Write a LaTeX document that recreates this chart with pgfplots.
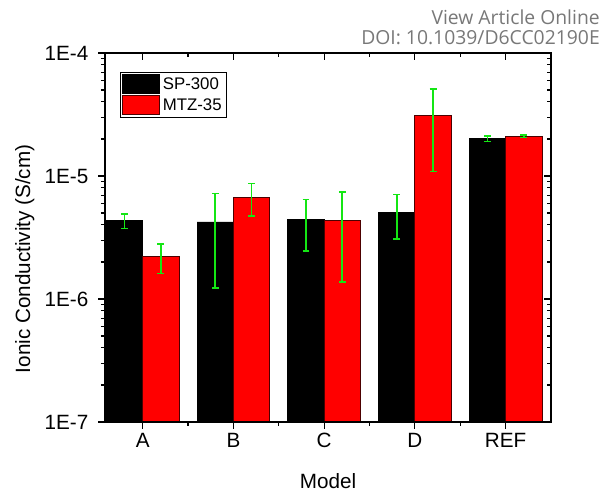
\documentclass[border=0pt]{standalone}
\usepackage{pgfplots}
\pgfplotsset{compat=1.18}
\usepackage{pgfplotstable}
\usepackage{fontspec}
\setmainfont{Liberation Sans}
\newfontfamily\wmfont{Open Sans}
\definecolor{errgreen}{RGB}{20,230,20}
\definecolor{wmgray}{RGB}{120,120,120}
\pgfplotstableread{
x y e
0 4.33e-6 0.6e-6
1 4.23e-6 3.0e-6
2 4.45e-6 2.0e-6
3 5.07e-6 2.0e-6
4 2.01e-5 0.1e-5
}\spdata
\pgfplotstableread{
x y e
0 2.21e-6 0.6e-6
1 6.71e-6 2.0e-6
2 4.38e-6 3.0e-6
3 3.09e-5 2.0e-5
4 2.10e-5 0.05e-5
}\mtzdata
\begin{document}
\begin{tikzpicture}
\begin{axis}[name=main,
    scale only axis,
    width=334.5pt, height=276.75pt,
    ymode=log, ymin=1e-7, ymax=1e-4,
    xmin=-0.415, xmax=4.5,
    xtick={0,1,2,3,4},
    minor xtick={0.5,1.5,2.5,3.5},
    ytick={1e-7,1e-6,1e-5,1e-4},
    minor ytick={2e-7,3e-7,4e-7,5e-7,6e-7,7e-7,8e-7,9e-7,
                 2e-6,3e-6,4e-6,5e-6,6e-6,7e-6,8e-6,9e-6,
                 2e-5,3e-5,4e-5,5e-5,6e-5,7e-5,8e-5,9e-5},
    axis line style={line width=1pt},
    major tick style={line width=0.8pt, black},
    minor tick style={line width=0.8pt, black},
    major tick length=5pt, minor tick length=3pt,
    at={(0,0)}, anchor=south west,
    xtick pos=left, ytick pos=left, tick align=outside,
    xticklabels={A,B,C,D,REF},
    yticklabels={1E-7,1E-6,1E-5,1E-4},
    ticklabel style={font=\fontsize{15.5}{18}\selectfont},
    yticklabel style={xshift=-4pt},
    xlabel={Model}, ylabel={Ionic Conductivity (S/cm)},
    label style={font=\fontsize{15.5}{18}\selectfont},
    xlabel style={yshift=-12pt},
    ylabel style={at={(axis description cs:-0.18,0.442)}, anchor=center},
    log origin y=infty,
    legend style={at={(0.0336,0.9485)}, anchor=north west, draw=black, line width=0.6pt,
      font=\fontsize{12.6}{15}\selectfont, inner sep=1.5pt, row sep=1pt,
      cells={anchor=west}},
    legend cell align=left,
  ]
\addplot[ybar, bar width=0.4, bar shift=0, fill=black, draw=black, line width=0.6pt,
  legend image code/.code={\draw[fill=black, draw=black, line width=0.6pt] (0pt,-7.1pt) rectangle (27.75pt,7.1pt);},
  error bars/.cd, y dir=both, y explicit,
  error bar style={errgreen, line width=1.2pt},
  error mark options={rotate=90, errgreen, line width=1.2pt, mark size=2.6pt}]
  table[x expr=\thisrow{x}-0.2, y=y, y error=e] {\spdata};
\addlegendentry{SP-300}
\addplot[ybar, bar width=0.4, bar shift=0, fill=red, draw=black!70!red, line width=0.6pt,
  legend image code/.code={\draw[fill=red, draw=black!70!red, line width=0.6pt] (0pt,-7.1pt) rectangle (27.75pt,7.1pt);},
  error bars/.cd, y dir=both, y explicit,
  error bar style={errgreen, line width=1.2pt},
  error mark options={rotate=90, errgreen, line width=1.2pt, mark size=2.6pt}]
  table[x expr=\thisrow{x}+0.2, y=y, y error=e] {\mtzdata};
\addlegendentry{MTZ-35}
\end{axis}
\begin{axis}[
    scale only axis,
    width=334.5pt, height=276.75pt,
    ymode=log, ymin=1e-7, ymax=1e-4,
    xmin=-0.415, xmax=4.5,
    xtick={0,1,2,3,4},
    minor xtick={0.5,1.5,2.5,3.5},
    ytick={1e-7,1e-6,1e-5,1e-4},
    minor ytick={2e-7,3e-7,4e-7,5e-7,6e-7,7e-7,8e-7,9e-7,
                 2e-6,3e-6,4e-6,5e-6,6e-6,7e-6,8e-6,9e-6,
                 2e-5,3e-5,4e-5,5e-5,6e-5,7e-5,8e-5,9e-5},
    axis line style={line width=1pt},
    major tick style={line width=0.8pt, black},
    minor tick style={line width=0.8pt, black},
    major tick length=5pt, minor tick length=3pt,
    at={(0,0)}, anchor=south west,
    xtick pos=right, ytick pos=right, tick align=inside,
    xticklabels={}, yticklabels={},
  ]
\end{axis}
\useasboundingbox ([xshift=-78.75pt,yshift=-48pt]main.south west) rectangle ([xshift=40.5pt,yshift=39.75pt]main.north east);
\node[anchor=base east, text=wmgray, font=\wmfont\fontsize{14.5}{17}\selectfont, inner sep=0pt]
  at ([xshift=371.25pt,yshift=297.75pt]main.south west) {View Article Online};
\node[anchor=base east, text=wmgray, font=\wmfont\fontsize{14.5}{17}\selectfont, inner sep=0pt]
  at ([xshift=371.25pt,yshift=282.75pt]main.south west) {DOI: 10.1039/D6CC02190E};
\end{tikzpicture}
\end{document}
